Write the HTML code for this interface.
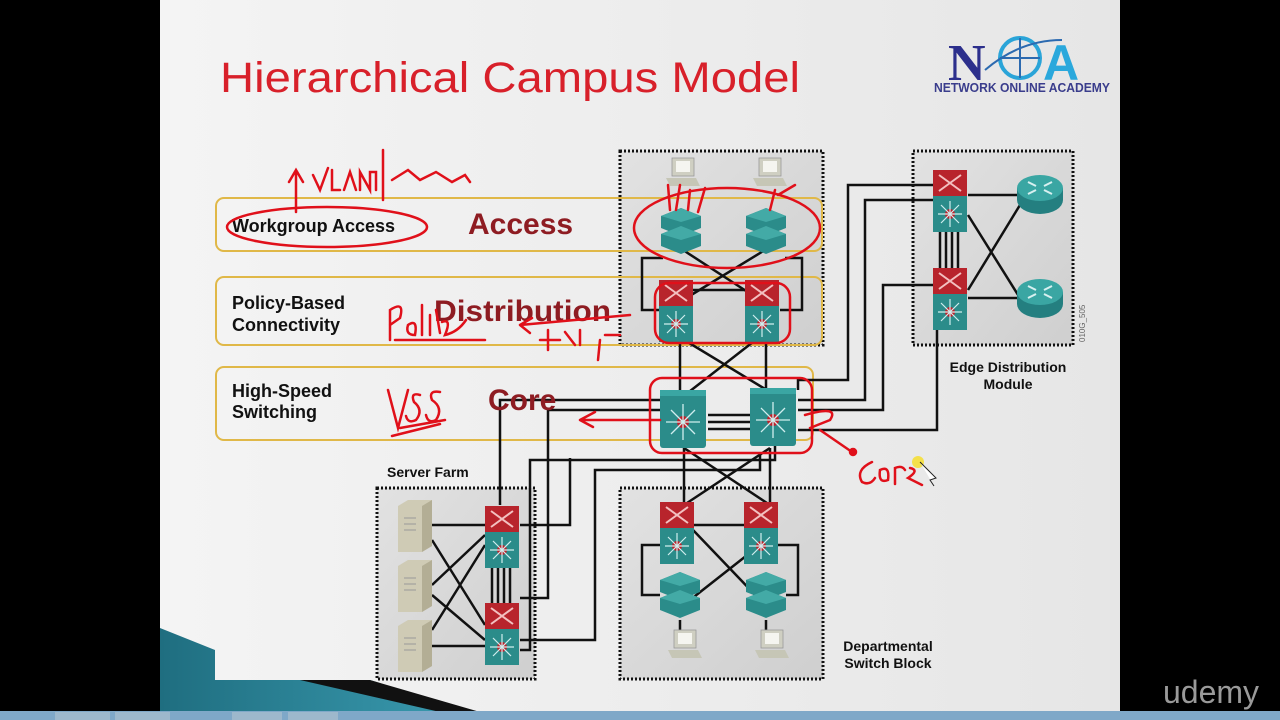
<!DOCTYPE html>
<html><head><meta charset="utf-8"><style>
html,body{margin:0;padding:0;background:#000;width:1280px;height:720px;overflow:hidden}
svg{display:block}
</style></head><body>
<svg width="1280" height="720" viewBox="0 0 1280 720" xmlns="http://www.w3.org/2000/svg" font-family="Liberation Sans, sans-serif">
<defs>
<linearGradient id="bg" x1="0" y1="0" x2="1" y2="0"><stop offset="0" stop-color="#f4f4f4"/><stop offset="1" stop-color="#e6e6e6"/></linearGradient>
<linearGradient id="box" x1="0" y1="0" x2="1" y2="1"><stop offset="0" stop-color="#e2e2e2"/><stop offset="1" stop-color="#cfcfcf"/></linearGradient>
<linearGradient id="teal" x1="0" y1="0" x2="1" y2="0"><stop offset="0" stop-color="#1f6e80"/><stop offset="1" stop-color="#3a9bb0"/></linearGradient>
<g id="l3"><rect x="0" y="0" width="34" height="26" fill="#b8242c"/><path d="M6 5 L28 21 M28 5 L6 21" stroke="#f3c0c0" stroke-width="2"/><rect x="0" y="26" width="34" height="36" fill="#2b8c8a"/><circle cx="17" cy="44" r="5" fill="#c0202a"/><path d="M17 44 L17 31 M17 44 L17 57 M17 44 L5 44 M17 44 L29 44 M17 44 L8 35 M17 44 L26 53 M17 44 L26 35 M17 44 L8 53" stroke="#cfeeee" stroke-width="1.2"/></g>
<g id="core"><rect x="0" y="0" width="46" height="58" rx="3" fill="#2b8c8a"/><rect x="0" y="0" width="46" height="6" fill="#3aa6a3"/><circle cx="23" cy="32" r="6" fill="#c0202a"/><path d="M23 32 L23 14 M23 32 L23 50 M23 32 L6 32 M23 32 L40 32 M23 32 L11 20 M23 32 L35 44 M23 32 L35 20 M23 32 L11 44" stroke="#cfeeee" stroke-width="1.3"/></g>
<g id="acc"><path d="M0 8 L20 0 L40 8 L40 20 L20 28 L0 20Z" fill="#2b8c8a"/><path d="M0 8 L20 0 L40 8 L20 14Z" fill="#43aaa6"/><path d="M0 26 L20 18 L40 26 L40 38 L20 46 L0 38Z" fill="#2b8c8a"/><path d="M0 26 L20 18 L40 26 L20 32Z" fill="#43aaa6"/></g>
<g id="pc"><rect x="0" y="0" width="22" height="18" fill="#cfcfc2" stroke="#999" stroke-width="0.8"/><rect x="4" y="3" width="14" height="11" fill="#f5f5f0"/><path d="M-6 20 L24 20 L28 28 L-2 28Z" fill="#c6c6b6"/></g>
<g id="srv"><path d="M0 6 L10 0 L34 0 L34 46 L24 52 L0 52Z" fill="#cfcbb5"/><path d="M24 6 L34 0 L34 46 L24 52Z" fill="#b3ae95"/><path d="M6 18 H18 M6 24 H18 M6 30 H18" stroke="#999" stroke-width="1"/></g>
<g id="rtr"><ellipse cx="0" cy="6" rx="23" ry="14" fill="#247f80"/><rect x="-23" y="-6" width="46" height="12" fill="#247f80"/><ellipse cx="0" cy="-6" rx="23" ry="13" fill="#3aa6a3"/><path d="M-12 -12 L-4 -8 M12 -12 L4 -8 M-12 0 L-4 -4 M12 0 L4 -4" stroke="#d8f0f0" stroke-width="2"/></g>
</defs>
<rect x="160" y="0" width="960" height="712" fill="url(#bg)"/>
<path d="M160 628 L215 650 L215 680 L370 680 L470 712 L160 712Z" fill="url(#teal)"/>
<path d="M300 680 L370 680 L480 712 L440 712Z" fill="#111"/>
<rect x="0" y="711" width="1280" height="9" fill="#7fa8c8"/>
<g fill="#9db8cc"><rect x="55" y="712" width="55" height="8"/><rect x="115" y="712" width="55" height="8"/><rect x="232" y="712" width="50" height="8"/><rect x="288" y="712" width="50" height="8"/></g>
<text x="220" y="92" font-size="43" fill="#d8202a" textLength="580" lengthAdjust="spacingAndGlyphs">Hierarchical Campus Model</text>
<text x="948" y="80" font-size="52" font-weight="bold" fill="#2c2f8c" font-family="Liberation Serif, serif">N</text>
<circle cx="1020" cy="58" r="20" fill="none" stroke="#2aa4d8" stroke-width="4"/>
<path d="M1020 38 V78 M1000 58 H1040 M985 70 Q1020 40 1062 40" stroke="#2c6ab0" stroke-width="2" fill="none"/>
<text x="1043" y="80" font-size="50" font-weight="bold" fill="#2aa8dc">A</text>
<text x="934" y="92" font-size="13" font-weight="bold" fill="#3a3d8c" textLength="176" lengthAdjust="spacingAndGlyphs">NETWORK ONLINE ACADEMY</text>
<g fill="url(#box)" stroke="#111" stroke-width="3" stroke-dasharray="2 2">
<rect x="620" y="151" width="203" height="194"/>
<rect x="913" y="151" width="160" height="194"/>
<rect x="377" y="488" width="158" height="191"/>
<rect x="620" y="488" width="203" height="191"/>
</g>
<g fill="none" stroke="#e0b848" stroke-width="2">
<rect x="216" y="198" width="606" height="53" rx="8"/>
<rect x="216" y="277" width="606" height="68" rx="8"/>
<rect x="216" y="367" width="597" height="73" rx="8"/>
</g>
<g stroke="#111" stroke-width="2.5" fill="none">
<path d="M683 250 L760 300 M765 250 L683 300"/>
<path d="M663 258 H642 V310 H660 M785 258 H802 V310 H780"/>
<path d="M676 290 H762"/>
<path d="M676 335 L775 395 M762 335 L685 395"/>
<path d="M680 335 V390 M766 335 V390"/>
<path d="M708 415 H750 M708 422 H750 M708 429 H750"/>
<path d="M684 448 V505 M770 448 V505 M684 448 L770 505 M770 448 L684 505"/>
<path d="M660 400 H500 V505"/>
<path d="M660 410 H548 V598 H520"/>
<path d="M775 445 V460 H530 V650 H520"/>
<path d="M760 455 V470 H595 V640 H520 M520 525 H570 V458"/>
<path d="M798 390 V380 H848 V185 H935"/>
<path d="M798 400 H865 V200 H935"/>
<path d="M798 410 H883 V285 H935"/>
<path d="M798 430 H937 V330"/>
<path d="M968 195 H1018 M968 298 H1018 M968 215 L1020 298 M968 290 L1020 205"/>
<path d="M940 232 V270 M946 232 V270 M952 232 V270 M958 232 V270"/>
<path d="M432 525 H485 M432 646 H485 M432 585 L485 535 M432 540 L485 625 M432 630 L485 545 M432 595 L485 640"/>
<path d="M492 568 V603 M498 568 V603 M504 568 V603 M510 568 V603"/>
<path d="M693 525 H745 M693 530 L760 600 M760 545 L690 600"/>
<path d="M660 545 H642 V595 H660 M778 545 H798 V595 H786"/>
<path d="M680 620 V635 M766 620 V635"/>
</g>
<use href="#pc" x="672" y="158"/><use href="#pc" x="759" y="158"/>
<use href="#acc" x="661" y="208"/><use href="#acc" x="746" y="208"/>
<use href="#l3" x="659" y="280"/><use href="#l3" x="745" y="280"/>
<use href="#core" x="660" y="390"/><use href="#core" x="750" y="388"/>
<use href="#l3" x="933" y="170"/><use href="#l3" x="933" y="268"/>
<use href="#rtr" x="1040" y="194"/><use href="#rtr" x="1040" y="298"/>
<use href="#srv" x="398" y="500"/><use href="#srv" x="398" y="560"/><use href="#srv" x="398" y="620"/>
<use href="#l3" x="485" y="506"/><use href="#l3" x="485" y="603"/>
<use href="#l3" x="660" y="502"/><use href="#l3" x="744" y="502"/>
<use href="#acc" x="660" y="572"/><use href="#acc" x="746" y="572"/>
<use href="#pc" x="674" y="630"/><use href="#pc" x="761" y="630"/>
<text x="1085" y="342" font-size="8" fill="#666" transform="rotate(-90 1085 342)">010G_505</text>
<g font-weight="bold" fill="#111">
<text x="232" y="232" font-size="18">Workgroup Access</text>
<text x="232" y="309" font-size="18">Policy-Based</text>
<text x="232" y="331" font-size="18">Connectivity</text>
<text x="232" y="397" font-size="18">High-Speed</text>
<text x="232" y="418" font-size="18">Switching</text>
<text x="387" y="477" font-size="14">Server Farm</text>
<text x="1008" y="372" font-size="14" text-anchor="middle">Edge Distribution</text>
<text x="1008" y="389" font-size="14" text-anchor="middle">Module</text>
<text x="888" y="651" font-size="14" text-anchor="middle">Departmental</text>
<text x="888" y="668" font-size="14" text-anchor="middle">Switch Block</text>
</g>
<g font-weight="bold" fill="#8e1c22">
<text x="468" y="234" font-size="30">Access</text>
<text x="434" y="321" font-size="30" textLength="177" lengthAdjust="spacingAndGlyphs">Distribution</text>
<text x="488" y="410" font-size="30">Core</text>
</g>
<g stroke="#e0101a" stroke-width="2.5" fill="none" stroke-linecap="round">
<ellipse cx="327" cy="227" rx="100" ry="20"/>
<path d="M296 212 V172 M289 182 L296 170 L303 182"/>
<path d="M313 175 L320 190 L328 168 M332 170 V190 H340 M344 190 L350 172 L356 190 M360 190 V172 L370 190 V172 L376 172 V190 M383 150 V200 M392 180 L408 170 L420 180 L436 172 L452 182 L465 175 L470 182"/>
<ellipse cx="727" cy="228" rx="93" ry="40"/>
<path d="M670 210 L668 185 M676 210 L680 185 M688 210 L690 190 M698 212 L705 188 M770 210 L775 190 M778 195 L795 185"/>
<rect x="655" y="283" width="135" height="60" rx="14"/>
<rect x="650" y="378" width="162" height="75" rx="12"/>
<path d="M390 340 V310 Q405 300 400 318 L390 325 M408 325 Q418 318 415 335 Q405 335 408 325 M422 305 V335 M430 315 V335 M436 310 L440 333 M442 322 Q452 318 445 335 Q458 332 466 320 M395 340 H485"/>
<path d="M520 325 L630 315 M520 325 L532 318 M520 325 L530 333 M540 340 H560 M548 330 V350 M565 332 L575 345 M580 330 V345 M600 340 L598 360 M605 335 H620"/>
<path d="M388 390 L398 428 L408 390 M420 395 Q410 392 414 402 Q424 410 416 420 Q408 424 406 416 M440 392 Q428 390 432 400 Q444 408 436 420 Q428 424 426 415 M392 436 L440 424 M400 428 L445 420"/>
<path d="M660 420 H580 M580 420 L595 412 M580 420 L593 427"/>
<path d="M805 415 Q840 405 830 420 L810 428 M820 430 L852 452"/>
<circle cx="853" cy="452" r="3" fill="#e0101a"/>
<path d="M872 462 Q855 470 862 482 Q870 486 875 478 M880 470 Q890 465 888 480 Q878 484 880 470 M895 484 V468 Q902 465 905 470 M910 468 Q920 470 908 478 L922 485"/>
</g>
<circle cx="918" cy="462" r="6" fill="#f4e04a"/>
<path d="M920 462 L936 478 L930 480 L934 486" fill="#fff" stroke="#222" stroke-width="1"/>
<text x="1163" y="703" font-size="32" fill="#9a9a9a">udemy</text>
</svg>
</body></html>
